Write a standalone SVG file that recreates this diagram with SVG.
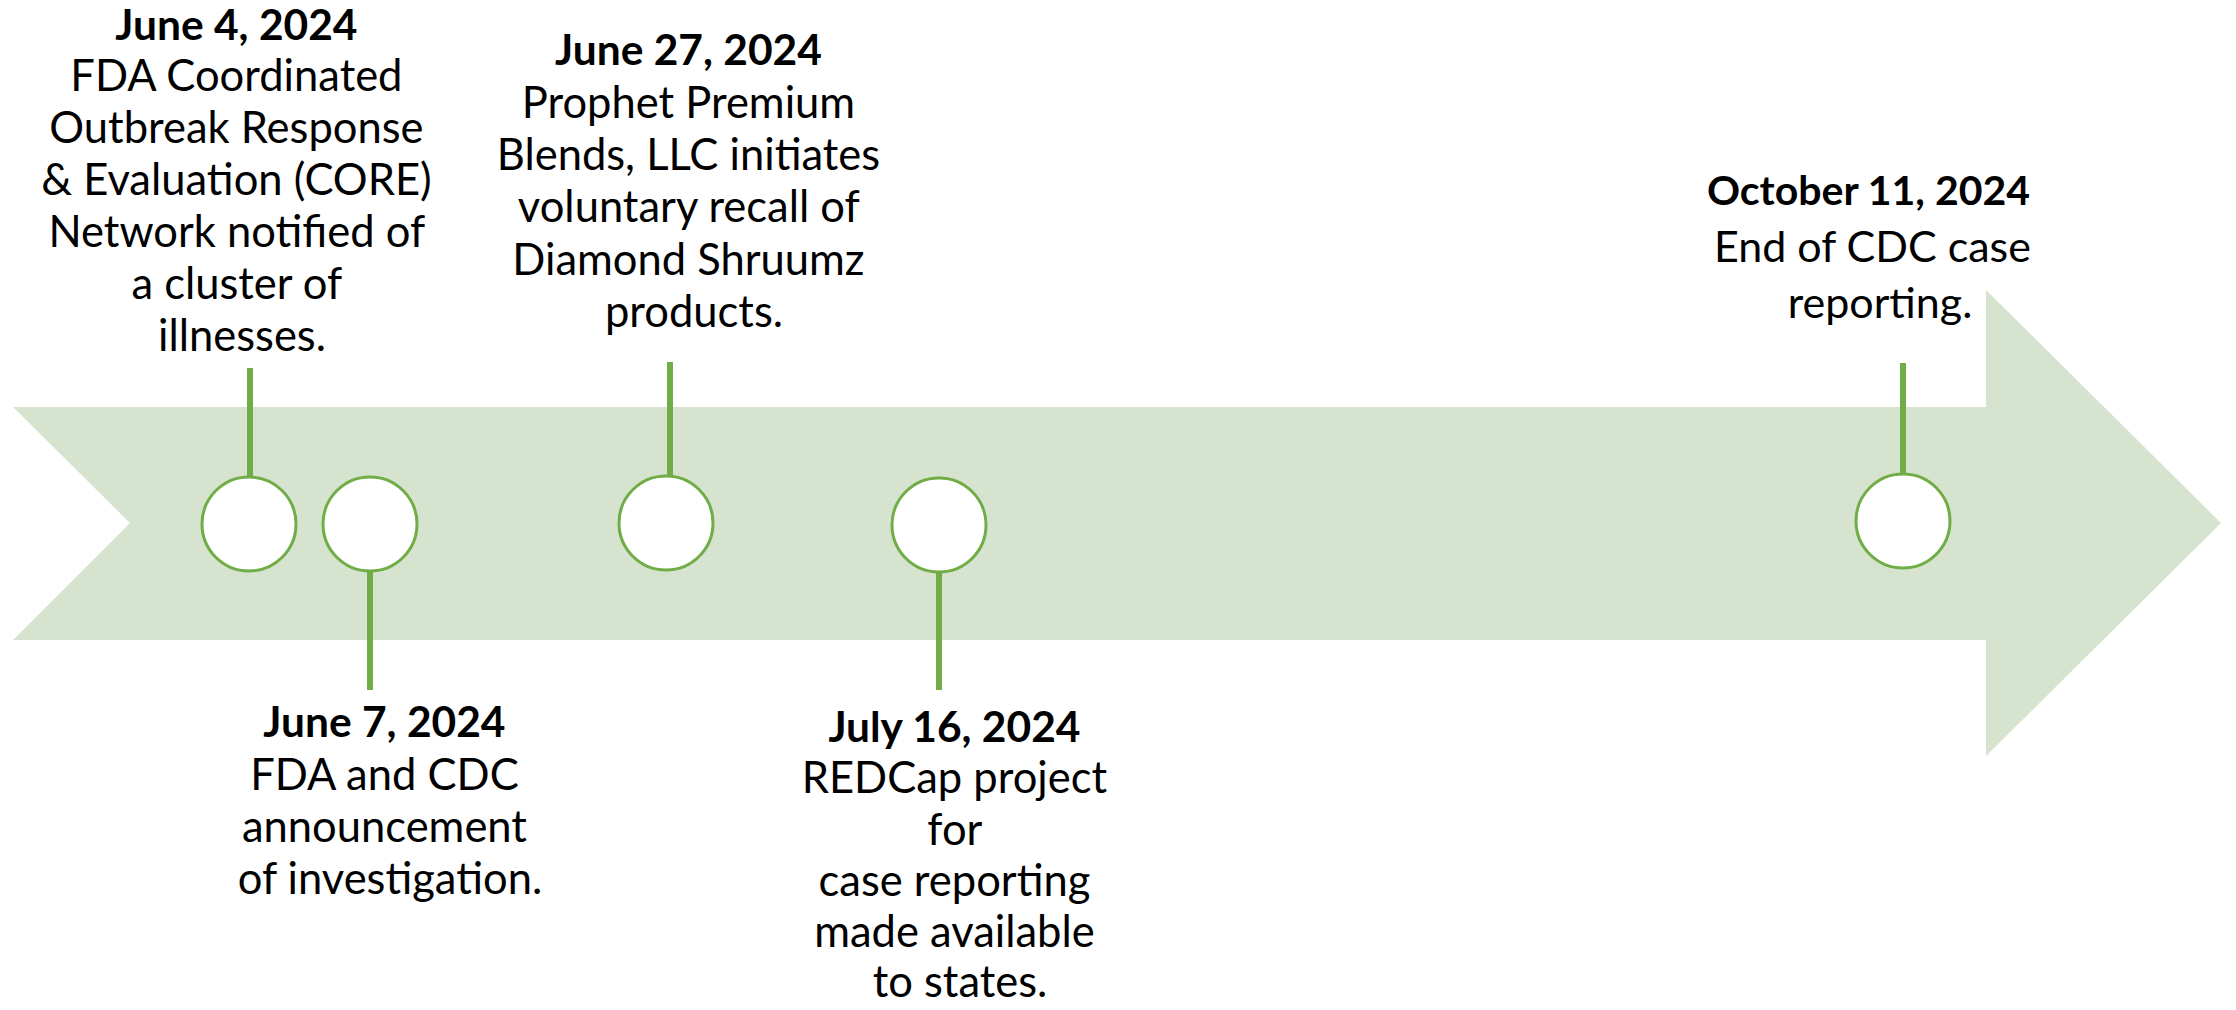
<svg xmlns="http://www.w3.org/2000/svg" width="2236" height="1010" viewBox="0 0 2236 1010">
  <style>
    .lbl { font-family: Lato, "Liberation Sans", sans-serif; font-size: 43.5px; fill: #000; text-anchor: middle; }
    .date { font-weight: bold; font-size: 42.5px; }
    .big { font-size: 43px; }
    .big .date { font-size: 41px; }
    .dot { fill: #FFFFFF; stroke: #70AD47; stroke-width: 3; }
    .stick { stroke: #70AD47; stroke-width: 6; fill: none; }
  </style>
  <rect x="0" y="0" width="2236" height="1010" fill="#FFFFFF"/>
  <g id="timeline-arrow">
    <polygon points="13,407 1986,407 1986,290 2221,523 1986,756 1986,640 13,640 130,523" fill="#D6E3CF"/>
  </g>
  <g id="connectors">
    <line class="stick" x1="250" y1="368" x2="250" y2="477"/>
    <line class="stick" x1="370" y1="572" x2="370" y2="690"/>
    <line class="stick" x1="670" y1="362" x2="670" y2="476"/>
    <line class="stick" x1="939" y1="573" x2="939" y2="690"/>
    <line class="stick" x1="1903" y1="363" x2="1903" y2="474"/>
  </g>
  <g id="event-jun4">
    <circle class="dot" cx="249" cy="524" r="47"/>
    <text class="lbl">
      <tspan class="date" x="242" y="40">June 4, 2024</tspan>
      <tspan x="242" y="91">FDA Coordinated</tspan>
      <tspan x="242" y="143">Outbreak Response</tspan>
      <tspan x="242" y="195">&amp; Evaluation (CORE)</tspan>
      <tspan x="242" y="247">Network notified of</tspan>
      <tspan x="242" y="299">a cluster of</tspan>
      <tspan x="242" y="351">illnesses.</tspan>
    </text>
  </g>
  <g id="event-jun7">
    <circle class="dot" cx="370" cy="524" r="47"/>
    <text class="lbl">
      <tspan class="date" x="390" y="737">June 7, 2024</tspan>
      <tspan x="390" y="790">FDA and CDC</tspan>
      <tspan x="390" y="842">announcement</tspan>
      <tspan x="390" y="894">of investigation.</tspan>
    </text>
  </g>
  <g id="event-jun27">
    <circle class="dot" cx="666" cy="523" r="47"/>
    <text class="lbl">
      <tspan class="date" x="694" y="65">June 27, 2024</tspan>
      <tspan x="694" y="118">Prophet Premium</tspan>
      <tspan x="694" y="170">Blends, LLC initiates</tspan>
      <tspan x="694" y="222">voluntary recall of</tspan>
      <tspan x="694" y="275">Diamond Shruumz</tspan>
      <tspan x="694" y="327">products.</tspan>
    </text>
  </g>
  <g id="event-jul16">
    <circle class="dot" cx="939" cy="525" r="47"/>
    <text class="lbl">
      <tspan class="date" x="960" y="742">July 16, 2024</tspan>
      <tspan x="960" y="793">REDCap project</tspan>
      <tspan x="960" y="845">for</tspan>
      <tspan x="960" y="896">case reporting</tspan>
      <tspan x="960" y="947">made available</tspan>
      <tspan x="960" y="997">to states.</tspan>
    </text>
  </g>
  <g id="event-oct11">
    <circle class="dot" cx="1903" cy="521" r="47"/>
    <text class="lbl big">
      <tspan class="date" x="1874" y="205">October 11, 2024</tspan>
      <tspan x="1878" y="262">End of CDC case</tspan>
      <tspan x="1880" y="318">reporting.</tspan>
    </text>
  </g>
</svg>
